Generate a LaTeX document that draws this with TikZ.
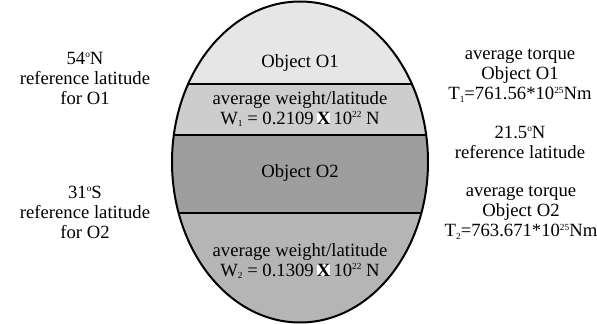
\documentclass[tikz,border=0pt]{standalone}
\usepackage{fontspec}
\setmainfont{Liberation Serif}
\usetikzlibrary{shapes.geometric}
\definecolor{bandA}{HTML}{E6E6E6}
\definecolor{bandB}{HTML}{CDCDCD}
\definecolor{bandC}{HTML}{9E9E9E}
\definecolor{bandD}{HTML}{B5B5B5}
\newcommand{\bigx}{{\setlength{\fboxsep}{0pt}\colorbox{white}{\textbf{X}}}}
\newcommand{\mysup}[1]{\raisebox{0.75ex}{\fontsize{7}{7}\selectfont #1}}
\newcommand{\mysub}[1]{\raisebox{-0.3ex}{\fontsize{7}{7}\selectfont #1}}
\begin{document}
\begin{tikzpicture}[x=0.75pt,y=-0.75pt,
  lbl/.style={align=center,font=\fontsize{14}{15}\selectfont,inner sep=0pt},
  bandline/.style={line width=1.5pt}]
\useasboundingbox (0,0) rectangle (597,324);
\begin{scope}
  \clip (300,162) ellipse [x radius=128, y radius=160.5];
  \fill[bandA] (170,0) rectangle (430,84);
  \fill[bandB] (170,84) rectangle (430,135);
  \fill[bandC] (170,135) rectangle (430,213);
  \fill[bandD] (170,213) rectangle (430,324);
  \draw[bandline] (170,84) -- (430,84);
  \draw[bandline] (170,135) -- (430,135);
  \draw[bandline] (170,213) -- (430,213);
\end{scope}
\node[draw,line width=1.5pt,ellipse,minimum width=192pt,minimum height=240.75pt,inner sep=0pt,outer sep=0pt] (globe) at (300,162) {};
\node[lbl] (o1) at (300,63) {Object O1};
\node[lbl] (w1) at (300,109) {average weight/latitude\\W\mysub{1} = 0.2109\,\bigx\,10\mysup{22} N};
\node[lbl] (o2) at (300,173) {Object O2};
\node[lbl] (w2) at (300,261) {average weight/latitude\\W\mysub{2} = 0.1309\,\bigx\,10\mysup{22} N};
\node[lbl] (l1) at (85,78) {54\mysup{o}N\\reference latitude\\for O1};
\node[lbl] (l2) at (85,212) {31\mysup{o}S\\reference latitude\\for O2};
\node[lbl] (r1) at (520,76) {average torque\\Object O1\\T\mysub{1}=761.56*10\mysup{25}Nm};
\node[lbl] (r2) at (520,142) {21.5\mysup{o}N\\reference latitude};
\node[lbl] (r3) at (521,213) {average torque\\Object O2\\T\mysub{2}=763.671*10\mysup{25}Nm};
\end{tikzpicture}
\end{document}
